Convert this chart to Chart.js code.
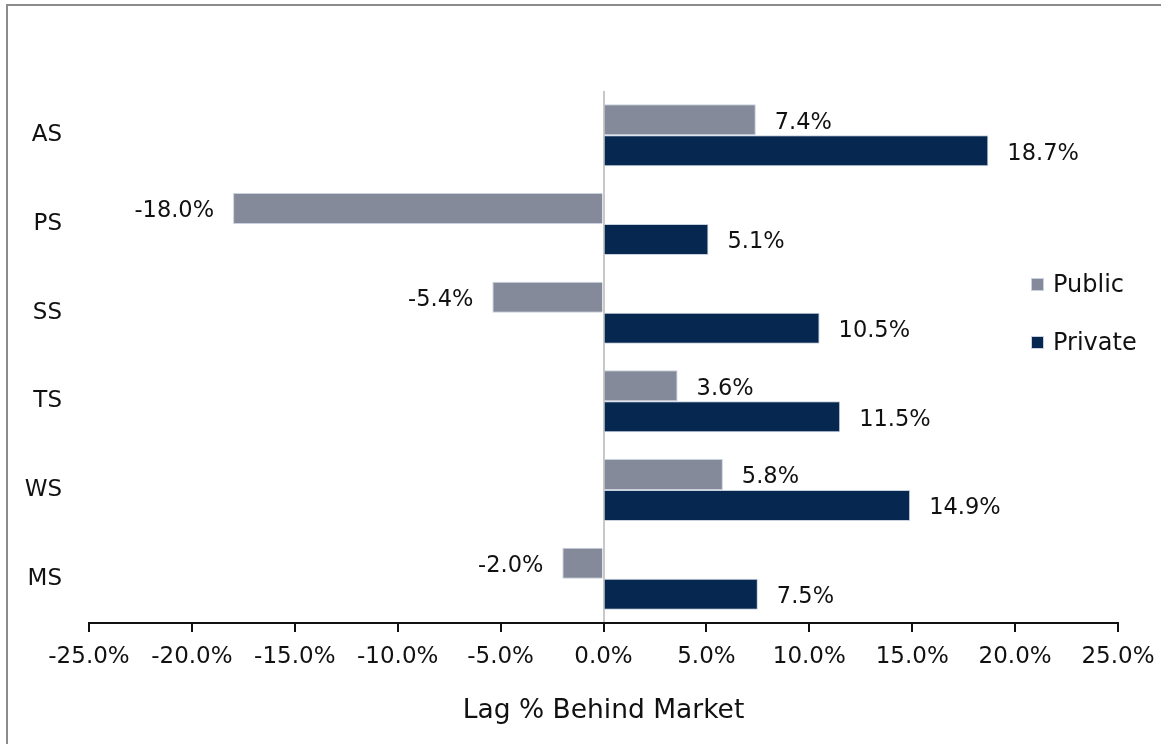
<!DOCTYPE html>
<html>
<head>
<meta charset="utf-8">
<script src="https://cdn.jsdelivr.net/npm/chart.js@4"></script>
<style>
  html, body { margin: 0; padding: 0; background: #fff; overflow: hidden; }
  #marco { position: absolute; left: 6px; top: 4px; width: 1300px; height: 900px; border: 2px solid #8c8c8c; }
  #grafico { position: absolute; left: 0; top: 0; }
</style>
</head>
<body>
<div id="marco"></div>
<canvas id="grafico" width="1161" height="744"></canvas>
<script>
// Segmentos y rezago vs mercado (%)
const segmentos = ['AS', 'PS', 'SS', 'TS', 'WS', 'MS'];
const rezagoPublico = [7.4, -18.0, -5.4, 3.6, 5.8, -2.0];
const rezagoPrivado = [18.7, 5.1, 10.5, 11.5, 14.9, 7.5];
const series = ['Public', 'Private'];
const coloresSerie = ['#858a9a', '#06274f'];
const tituloEje = 'Lag % Behind Market';

const FUENTE = "'DejaVu Sans', sans-serif";
const fmt = v => v.toFixed(1) + '%';

// etiquetas de valor al final de cada barra
const etiquetasBarras = {
    id: 'etiquetasBarras',
    afterDatasetsDraw(chart) {
        const ctx = chart.ctx;
        ctx.save();
        ctx.font = `22.5px ${FUENTE}`;
        ctx.fillStyle = '#111';
        ctx.textBaseline = 'middle';
        chart.data.datasets.forEach((ds, i) => {
            chart.getDatasetMeta(i).data.forEach((bar, j) => {
                const v = ds.data[j];
                if (v >= 0) {
                    ctx.textAlign = 'left';
                    ctx.fillText(fmt(v), bar.x + 19, bar.y + 3);
                } else {
                    ctx.textAlign = 'right';
                    ctx.fillText(fmt(v), bar.x - 19, bar.y + 3);
                }
            });
        });
        ctx.restore();
    }
};

// leyenda a la derecha, encima del área de datos
const leyenda = {
    id: 'leyenda',
    afterDraw(chart) {
        const ctx = chart.ctx;
        ctx.save();
        ctx.font = `24px ${FUENTE}`;
        ctx.textBaseline = 'middle';
        ctx.textAlign = 'left';
        chart.data.datasets.forEach((ds, i) => {
            const y = 285 + i * 58;
            ctx.fillStyle = ds.backgroundColor;
            ctx.fillRect(1031, y - 7, 13, 13);
            ctx.strokeStyle = '#c9d1de';
            ctx.lineWidth = 1;
            ctx.strokeRect(1031.5, y - 6.5, 12, 12);
            ctx.fillStyle = '#111';
            ctx.fillText(ds.label, 1053, y + 1);
        });
        ctx.restore();
    }
};

new Chart(document.getElementById('grafico'), {
    type: 'bar',
    data: {
        labels: segmentos,
        datasets: [
            { label: series[0], data: rezagoPublico, backgroundColor: coloresSerie[0] },
            { label: series[1], data: rezagoPrivado, backgroundColor: coloresSerie[1] }
        ]
    },
    options: {
        indexAxis: 'y',
        responsive: false,
        animation: false,
        devicePixelRatio: 1,
        layout: { padding: { top: 91, right: 0, bottom: 0, left: 0 } },
        datasets: {
            bar: {
                categoryPercentage: 0.70,
                barPercentage: 1.0,
                borderWidth: 1,
                borderColor: '#c9d1de'
            }
        },
        plugins: {
            legend: { display: false },
            tooltip: { enabled: false }
        },
        scales: {
            x: {
                min: -25,
                max: 25,
                afterFit: s => {
                    s.height = 121;
                    s.paddingLeft = 0;
                    s.paddingRight = 43;
                },
                border: { display: true, color: '#111', width: 2 },
                grid: {
                    color: c => c.tick && c.tick.value === 0 ? '#c8c8c8' : 'rgba(0,0,0,0)',
                    lineWidth: 2,
                    tickColor: '#111',
                    tickWidth: 2,
                    tickLength: 9
                },
                ticks: {
                    stepSize: 5,
                    autoSkip: false,
                    maxRotation: 0,
                    padding: 11,
                    color: '#111',
                    font: { family: FUENTE, size: 23 },
                    callback: v => fmt(v)
                },
                title: {
                    display: true,
                    text: tituloEje,
                    color: '#111',
                    font: { family: FUENTE, size: 26.5 },
                    padding: { top: 0, bottom: 17 }
                }
            },
            y: {
                afterFit: s => { s.width = 89; },
                border: { display: false },
                grid: { display: false, drawTicks: false },
                ticks: {
                    padding: 27,
                    color: '#111',
                    font: { family: FUENTE, size: 23 }
                }
            }
        }
    },
    plugins: [etiquetasBarras, leyenda]
});
</script>
</body>
</html>
